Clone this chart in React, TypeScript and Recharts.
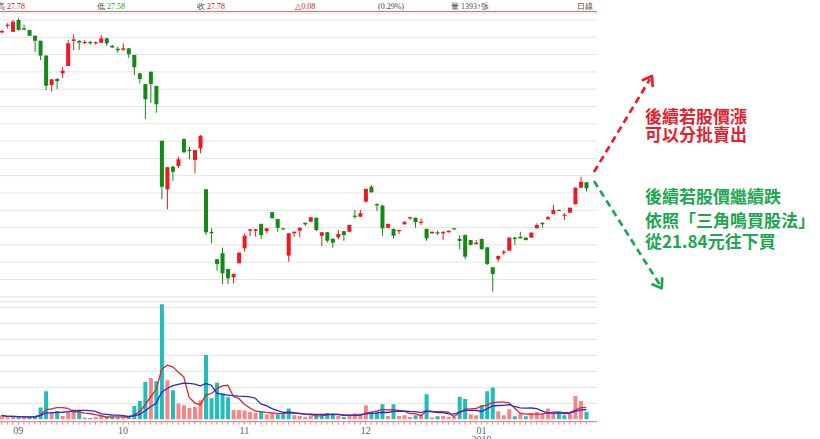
import React from 'react';
import { ComposedChart, Bar, Line, XAxis, YAxis, CartesianGrid, Cell } from 'recharts';

const dates = [
  '2018/08/29', '2018/08/30', '2018/08/31',
  '2018/09/03', '2018/09/04', '2018/09/05', '2018/09/06', '2018/09/07', '2018/09/10', '2018/09/11', '2018/09/12', '2018/09/13', '2018/09/14',
  '2018/09/17', '2018/09/18', '2018/09/19', '2018/09/20', '2018/09/21', '2018/09/25', '2018/09/26', '2018/09/27', '2018/09/28',
  '2018/10/01', '2018/10/02', '2018/10/03', '2018/10/04', '2018/10/05', '2018/10/08', '2018/10/09', '2018/10/11', '2018/10/12',
  '2018/10/15', '2018/10/16', '2018/10/17', '2018/10/18', '2018/10/19', '2018/10/22', '2018/10/23', '2018/10/24', '2018/10/25',
  '2018/10/26', '2018/10/29', '2018/10/30', '2018/10/31',
  '2018/11/01', '2018/11/02', '2018/11/05', '2018/11/06', '2018/11/07', '2018/11/08', '2018/11/09', '2018/11/12', '2018/11/13',
  '2018/11/14', '2018/11/15', '2018/11/16', '2018/11/19', '2018/11/20', '2018/11/21', '2018/11/22', '2018/11/23', '2018/11/26',
  '2018/11/27', '2018/11/28', '2018/11/29', '2018/11/30',
  '2018/12/03', '2018/12/04', '2018/12/05', '2018/12/06', '2018/12/07', '2018/12/10', '2018/12/11', '2018/12/12', '2018/12/13',
  '2018/12/14', '2018/12/17', '2018/12/18', '2018/12/19', '2018/12/20', '2018/12/21', '2018/12/22', '2018/12/24', '2018/12/25',
  '2018/12/26', '2018/12/27', '2018/12/28',
  '2019/01/02', '2019/01/03', '2019/01/04', '2019/01/07', '2019/01/08', '2019/01/09', '2019/01/10', '2019/01/11', '2019/01/14',
  '2019/01/15', '2019/01/16', '2019/01/17', '2019/01/18', '2019/01/21', '2019/01/22', '2019/01/23', '2019/01/24', '2019/01/25',
  '2019/01/28', '2019/01/29',
];

const opens = [
  36.78, 37.17, 36.82, 37.50, 37.02, 36.92, 36.59, 36.30, 35.44, 33.74,
  34.09, 34.42, 34.84, 36.29, 36.29, 36.19, 36.23, 36.15, 36.19, 36.44,
  36.01, 35.84, 35.77, 35.86, 35.48, 34.42, 33.80, 34.51, 33.69, 30.52,
  27.71, 29.02, 29.06, 30.62, 30.00, 29.41, 30.08, 27.71, 25.25, 23.67,
  24.02, 23.11, 22.63, 23.44, 24.30, 25.32, 25.32, 25.71, 25.30, 26.39,
  26.00, 25.46, 23.88, 25.17, 25.32, 25.78, 25.84, 26.07, 25.03, 25.23,
  24.86, 24.94, 25.29, 25.26, 26.19, 26.13, 27.00, 27.86, 26.86, 26.77,
  25.49, 25.42, 25.30, 25.69, 26.06, 26.07, 25.81, 25.42, 25.17, 25.23,
  25.17, 25.23, 25.46, 24.84, 25.07, 24.78, 24.55, 24.84, 24.36, 23.21,
  23.67, 24.05, 24.17, 24.92, 24.97, 24.92, 24.92, 25.46, 25.78, 25.98,
  26.29, 26.52, 26.21, 26.36, 26.85, 27.81, 28.12,
];

const highs = [
  36.92, 37.31, 37.50, 37.60, 37.21, 36.92, 36.59, 36.30, 35.48, 34.09,
  34.15, 34.78, 36.34, 36.67, 36.34, 36.34, 36.30, 36.26, 36.63, 36.46,
  36.06, 35.96, 36.15, 35.88, 35.48, 34.44, 33.80, 34.51, 33.69, 30.52,
  29.00, 29.06, 29.60, 30.65, 30.18, 29.99, 30.85, 27.73, 25.46, 23.69,
  24.34, 23.11, 22.85, 24.06, 25.17, 25.42, 25.42, 25.74, 25.48, 26.40,
  26.00, 25.48, 25.19, 25.28, 25.51, 25.80, 26.11, 26.08, 25.25, 25.25,
  24.87, 25.36, 25.30, 25.68, 26.52, 26.52, 27.76, 27.96, 26.91, 26.81,
  25.74, 25.45, 25.39, 25.85, 26.13, 26.08, 26.04, 25.45, 25.28, 25.32,
  25.28, 25.33, 25.48, 25.07, 25.10, 24.78, 24.78, 24.87, 24.38, 23.22,
  23.89, 24.21, 24.93, 24.97, 25.26, 24.93, 25.22, 25.75, 25.80, 26.17,
  26.81, 26.55, 26.33, 26.66, 27.82, 28.44, 28.14,
];

const lows = [
  36.73, 37.02, 36.81, 36.89, 36.92, 36.58, 35.65, 35.19, 33.45, 33.36,
  33.51, 34.15, 34.84, 35.77, 35.77, 36.10, 36.06, 36.08, 36.17, 36.01,
  35.88, 35.61, 35.73, 35.29, 34.32, 33.84, 31.78, 32.69, 32.14, 27.14,
  26.56, 28.21, 28.93, 29.84, 29.45, 28.64, 29.80, 25.07, 24.59, 23.01,
  22.24, 22.24, 22.28, 23.43, 24.11, 25.02, 24.97, 24.84, 25.17, 26.03,
  25.26, 25.39, 23.53, 24.97, 24.94, 25.59, 25.82, 25.30, 24.44, 24.63,
  24.34, 24.82, 24.74, 25.25, 26.00, 26.11, 26.94, 27.53, 26.46, 25.02,
  25.48, 24.88, 25.13, 25.68, 25.94, 25.49, 25.65, 24.73, 25.16, 25.07,
  24.78, 25.22, 25.39, 24.25, 23.67, 24.47, 24.50, 24.23, 23.34, 21.80,
  23.53, 23.92, 24.15, 24.50, 24.87, 24.76, 24.90, 25.45, 25.49, 25.97,
  26.26, 26.46, 25.94, 26.34, 26.84, 27.79, 27.58,
];

const closes = [
  36.86, 37.23, 37.40, 36.92, 36.94, 36.59, 36.30, 35.44, 33.70, 34.07,
  33.97, 34.57, 36.15, 36.38, 36.19, 36.23, 36.19, 36.21, 36.44, 36.15,
  35.92, 35.75, 35.86, 35.52, 34.77, 34.09, 32.92, 33.80, 32.63, 27.86,
  28.99, 28.73, 29.45, 29.85, 29.97, 29.98, 30.81, 25.23, 25.21, 23.40,
  22.86, 22.57, 22.82, 24.05, 25.03, 25.40, 25.41, 25.07, 25.46, 26.04,
  25.49, 25.40, 25.17, 25.26, 25.49, 25.69, 26.10, 25.36, 25.23, 24.74,
  24.63, 25.13, 25.07, 25.65, 26.15, 26.33, 27.73, 27.54, 26.82, 25.46,
  25.71, 25.03, 25.36, 25.84, 26.10, 25.81, 25.84, 24.88, 25.26, 25.17,
  25.26, 25.32, 25.40, 24.73, 23.82, 24.50, 24.63, 24.25, 23.40, 22.82,
  23.86, 24.11, 24.92, 24.84, 24.88, 24.78, 25.21, 25.65, 25.69, 26.10,
  26.52, 26.48, 26.25, 26.65, 27.81, 28.15, 27.77,
];

const volumes = [
  750, 375, 470, 375, 375, 470, 560, 2190, 5250, 1370,
  1560, 620, 1500, 1875, 1500, 320, 240, 430, 750, 430,
  430, 320, 430, 430, 2490, 3430, 6990, 7740, 7125, 21560,
  7310, 5440, 2940, 2625, 2120, 2310, 3560, 12060, 3940, 6860,
  4875, 4125, 1740, 1740, 1630, 1370, 1180, 1370, 880, 1180,
  940, 940, 2010, 750, 620, 430, 750, 750, 880, 1180,
  1070, 620, 430, 620, 1070, 1070, 2625, 1370, 1500, 2810,
  620, 2810, 620, 750, 430, 750, 880, 4690, 320, 560,
  620, 430, 430, 4180, 3810, 940, 750, 2625, 5250, 5940,
  1500, 750, 1875, 560, 1070, 560, 1070, 1370, 1070, 2010,
  1180, 1260, 750, 1070, 4370, 3430, 1393,
];

const priceTicks = [22.5, 23.5, 24.5, 25.5, 26.5, 27.5, 28.5, 29.5, 30.5, 31.5, 32.5, 33.5, 34.5, 35.5, 36.5, 37.5];
const volumeTicks = [3000, 6000, 9000, 12000, 15000, 18000, 21000];

const CANDLE_UP = '#f2171f';
const CANDLE_DOWN = '#128a14';
const VOL_UP = '#f88585';
const VOL_DOWN = '#20bdbd';
const MA5_COLOR = '#e5232a';
const MA10_COLOR = '#2a2ad8';
const AXIS_PINK = '#e88c8c';
const GRID = '#e4e4e4';

function movingAverage(values: number[], n: number): number[] {
  return values.map((_, i) => {
    const w = values.slice(Math.max(0, i - n + 1), i + 1);
    return w.reduce((a, b) => a + b, 0) / w.length;
  });
}

const ma5 = movingAverage(volumes, 5);
const ma10 = movingAverage(volumes, 10);

const data = dates.map((d, i) => ({
  date: d,
  open: opens[i],
  high: highs[i],
  low: lows[i],
  close: closes[i],
  range: [lows[i], highs[i]],
  volume: volumes[i],
  ma5: ma5[i],
  ma10: ma10[i],
  up: i === 0 ? closes[i] >= opens[i] : closes[i] >= closes[i - 1],
}));

const monthStarts = dates.filter((d, i) => i > 0 && d.slice(5, 7) !== dates[i - 1].slice(5, 7));

const Candle = (props: any) => {
  const { x, y, width, height, payload } = props;
  if (!payload || x == null) return null;
  const { open, close, high, low } = payload;
  const top = Math.min(y, y + height);
  const h = Math.abs(height);
  const span = high - low;
  const ratio = span > 0 ? h / span : 0;
  const yOf = (v: number) => top + (high - v) * ratio;
  const color = close >= open ? CANDLE_UP : CANDLE_DOWN;
  const cx = x + width / 2;
  const bTop = yOf(Math.max(open, close));
  const bBot = yOf(Math.min(open, close));
  const bh = Math.max(1.2, bBot - bTop);
  return (
    <g>
      <line x1={cx} x2={cx} y1={top} y2={top + h} stroke={color} strokeWidth={1} />
      <rect x={x} y={bTop} width={width} height={bh} fill={color} />
    </g>
  );
};

const MonthTick = (props: any) => {
  const { x, y, payload } = props;
  const v: string = payload && payload.value;
  if (!v || !monthStarts.includes(v)) return null;
  const mm = v.slice(5, 7);
  return (
    <g>
      <text x={x} y={y + 7} textAnchor="middle" fontSize={10} fill="#5a6478" fontFamily="'Liberation Serif', 'DejaVu Serif', serif">{mm}</text>
      {mm === '01' && (
        <text x={x} y={y + 16} textAnchor="middle" fontSize={10} fill="#5a6478" fontFamily="'Liberation Serif', 'DejaVu Serif', serif">{v.slice(0, 4)}</text>
      )}
    </g>
  );
};

const NoTick = () => null;

function arrowHead(tipX: number, tipY: number, fromX: number, fromY: number, len: number) {
  const dx = fromX - tipX;
  const dy = fromY - tipY;
  const l = Math.hypot(dx, dy);
  const ux = dx / l;
  const uy = dy / l;
  const a = (35 * Math.PI) / 180;
  const p1 = [tipX + len * (ux * Math.cos(a) - uy * Math.sin(a)), tipY + len * (ux * Math.sin(a) + uy * Math.cos(a))];
  const p2 = [tipX + len * (ux * Math.cos(-a) - uy * Math.sin(-a)), tipY + len * (ux * Math.sin(-a) + uy * Math.cos(-a))];
  return `${p1[0]},${p1[1]} ${tipX},${tipY} ${p2[0]},${p2[1]}`;
}

const RED_TXT = '#e8202c';
const GREEN_TXT = '#1ea651';
const CJK = "'Noto Sans CJK TC', 'Noto Sans CJK SC', sans-serif";

export default function App() {
  return (
    <div style={{ position: 'absolute', left: 0, top: 0, width: 820, height: 439, background: '#fff', overflow: 'hidden' }}>
      <div style={{ position: 'absolute', left: -1, top: 0 }}>
        <ComposedChart width={598} height={305} data={data} margin={{ top: 13.08, right: 0, bottom: 8.2, left: 0 }}>
          <CartesianGrid horizontal vertical={false} stroke={GRID} />
          <XAxis
            dataKey="date"
            height={0}
            padding={{ left: 0, right: 8 }}
            ticks={monthStarts}
            interval={0}
            tick={NoTick}
            tickSize={2}
            tickLine={{ stroke: '#c05050' }}
            axisLine={{ stroke: AXIS_PINK, strokeWidth: 1.2 }}
          />
          <YAxis domain={[21.5, 37.9]} ticks={priceTicks} interval={0} hide allowDataOverflow />
          <Bar dataKey="range" shape={<Candle />} barSize={4} isAnimationActive={false} />
        </ComposedChart>
      </div>
      <div style={{ position: 'absolute', left: -1, top: 290 }}>
        <ComposedChart width={598} height={150} data={data} margin={{ top: 11.7, right: 0, bottom: 0, left: 0 }}>
          <CartesianGrid horizontal vertical={false} stroke={GRID} />
          <XAxis
            xAxisId={0}
            dataKey="date"
            height={18.3}
            padding={{ left: 0, right: 8 }}
            interval={0}
            tick={<MonthTick />}
            tickSize={3}
            tickLine={{ stroke: AXIS_PINK }}
            axisLine={{ stroke: AXIS_PINK, strokeWidth: 1.2 }}
          />
          <XAxis
            xAxisId="top"
            orientation="top"
            dataKey="date"
            height={0}
            padding={{ left: 0, right: 8 }}
            tick={false}
            tickLine={false}
            axisLine={{ stroke: AXIS_PINK, strokeWidth: 1.2 }}
          />
          <YAxis domain={[-450, 22050]} ticks={volumeTicks} interval={0} hide allowDataOverflow />
          <Bar dataKey="volume" barSize={4} isAnimationActive={false}>
            {data.map((d, i) => (
              <Cell key={i} fill={d.up ? VOL_UP : VOL_DOWN} />
            ))}
          </Bar>
          <Line dataKey="ma5" stroke={MA5_COLOR} strokeWidth={1.3} dot={false} isAnimationActive={false} />
          <Line dataKey="ma10" stroke={MA10_COLOR} strokeWidth={1.3} dot={false} isAnimationActive={false} />
        </ComposedChart>
      </div>
      <svg width={820} height={439} style={{ position: 'absolute', left: 0, top: 0, pointerEvents: 'none' }}>
        <g fontSize={8} fontFamily="'Liberation Serif', 'DejaVu Serif', serif">
          <text x={-3} y={9}><tspan fill="#444">高 </tspan><tspan fill="#e01010">27.78</tspan></text>
          <text x={97} y={9}><tspan fill="#444">低 </tspan><tspan fill="#1a9a1a">27.58</tspan></text>
          <text x={197} y={9}><tspan fill="#444">收 </tspan><tspan fill="#e01010">27.78</tspan></text>
          <text x={295} y={9} fill="#e01010">△0.08</text>
          <text x={378} y={9} fill="#444">(0.29%)</text>
          <text x={451} y={9} fill="#444">量 1393↑張</text>
          <text x={577} y={9} fill="#444">日線</text>
        </g>
        <line x1={0} x2={597} y1={11.5} y2={11.5} stroke="#e07070" strokeWidth={1} />
        <g fill="none" strokeWidth={2.7}>
          <line x1={594} y1={172} x2={650} y2={79} stroke={RED_TXT} strokeDasharray="7 4.5" />
          <polyline points={arrowHead(652, 76, 594, 172, 10)} stroke={RED_TXT} strokeLinecap="round" strokeLinejoin="round" />
          <line x1={594} y1={181} x2={660} y2={285} stroke={GREEN_TXT} strokeDasharray="7 4.5" />
          <polyline points={arrowHead(661.7, 288.3, 594, 181, 10)} stroke={GREEN_TXT} strokeLinecap="round" strokeLinejoin="round" />
        </g>
        <g fontSize={17} fontWeight="bold" fontFamily={CJK}>
          <text x={645} y={122.5} fill={RED_TXT}>後續若股價漲</text>
          <text x={645} y={141} fill={RED_TXT}>可以分批賣出</text>
          <text x={645} y={203} fill={GREEN_TXT}>後續若股價繼續跌</text>
          <text x={645} y={226.5} fill={GREEN_TXT}>依照「三角鳴買股法」</text>
          <text x={645} y={248} fill={GREEN_TXT}>從21.84元往下買</text>
        </g>
      </svg>
    </div>
  );
}
